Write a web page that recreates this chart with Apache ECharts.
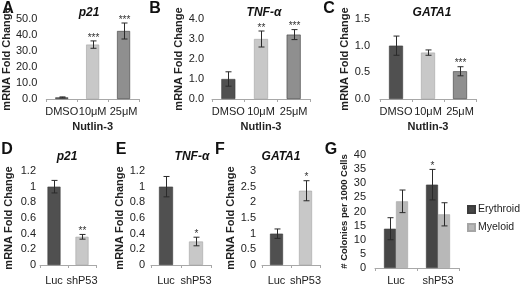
<!DOCTYPE html>
<html><head><meta charset="utf-8">
<script src="https://cdn.jsdelivr.net/npm/echarts@6/dist/echarts.min.js"></script>
<style>html,body{margin:0;padding:0;background:#fff}#c{width:520px;height:286px}</style>
</head><body><div id="c"></div>
<script>
// ---------- data ----------
const nutlinCategories = ['DMSO', '10μM', '25μM'];
const shCategories = ['Luc', 'shP53'];

const p21Nutlin = [1.0, 34.0, 42.5];
const p21NutlinErr = [0.3, 2.3, 5.0];
const p21NutlinSig = ['', '***', '***'];

const tnfNutlin = [1.0, 3.0, 3.22];
const tnfNutlinErr = [0.36, 0.4, 0.25];
const tnfNutlinSig = ['', '**', '***'];

const gata1Nutlin = [1.0, 0.87, 0.52];
const gata1NutlinErr = [0.18, 0.05, 0.085];
const gata1NutlinSig = ['', '', '***'];

const p21Sh = [1.0, 0.36];
const p21ShErr = [0.08, 0.03];
const p21ShSig = ['', '**'];

const tnfSh = [1.0, 0.30];
const tnfShErr = [0.13, 0.055];
const tnfShSig = ['', '*'];

const gata1Sh = [1.0, 2.37];
const gata1ShErr = [0.15, 0.32];
const gata1ShSig = ['', '*'];

const colonySeriesNames = ['Erythroid', 'Myeloid'];
const erythroidColonies = [13.9, 29.5];
const erythroidColoniesErr = [3.9, 5.4];
const erythroidColoniesSig = ['', '*'];
const myeloidColonies = [23.6, 19.0];
const myeloidColoniesErr = [4.0, 4.1];
const myeloidColoniesSig = ['', ''];

// y-axis ranges [min, max, interval]
const yRangeA = [0, 50, 10];
const yRangeB = [0, 4, 1];
const yRangeC = [0, 1.5, 0.5];
const yRangeD = [0, 1.2, 0.2];
const yRangeE = [0, 1.2, 0.2];
const yRangeF = [0, 3, 0.5];
const yRangeG = [0, 40, 5];

const yAxisTitle = 'mRNA Fold Change';
const colonyAxisTitle = '# Colonies per 1000 Cells';
const nutlinAxisTitle = 'Nutlin-3';
const panelTitles = ['p21', 'TNF-α', 'GATA1', 'p21', 'TNF-α', 'GATA1'];
const panelLetters = ['A', 'B', 'C', 'D', 'E', 'F', 'G'];

// ---------- styles ----------
const FONT = '"Liberation Sans", Arial, sans-serif';
const DARK = '#505050', LIGHT = '#c8c8c8', MID = '#8f8f8f';
const ERY = '#464646', MYE = '#b8b8b8';
const nutlinColors = [DARK, LIGHT, MID];
const shColors = [DARK, LIGHT];
const AXIS_COLOR = '#a8a8a8';

const grids = [
  {left: 43, top: 19, width: 96, height: 80},
  {left: 212, top: 19, width: 98, height: 80},
  {left: 380, top: 19, width: 96, height: 80},
  {left: 40, top: 171, width: 56, height: 94},
  {left: 151, top: 171, width: 60, height: 94},
  {left: 262, top: 171, width: 58, height: 94},
  {left: 375, top: 155, width: 84, height: 113}
];

function numFmt1(v) { return v.toFixed(1); }
function numFmtShort(v) { return String(+v.toFixed(2)); }

function xAxisFor(i, cats, name, labelMargin) {
  return {
    type: 'category', gridIndex: i, data: cats, boundaryGap: true,
    axisLine: {lineStyle: {color: AXIS_COLOR, width: 1}},
    axisTick: {show: true, length: 3, lineStyle: {color: AXIS_COLOR}},
    axisLabel: {interval: 0, margin: labelMargin, color: '#222', fontSize: 11, fontFamily: FONT},
    name: name || '', nameLocation: 'middle', nameGap: 22,
    nameTextStyle: {fontWeight: 'bold', fontSize: 11, color: '#222', fontFamily: FONT}
  };
}
function yAxisFor(i, range, fmt, name, nameGap, nameSize, labelMargin) {
  return {
    type: 'value', gridIndex: i, min: range[0], max: range[1], interval: range[2],
    axisLine: {show: false}, axisTick: {show: false}, splitLine: {show: false},
    axisLabel: {formatter: fmt, color: '#222', fontSize: 11, fontFamily: FONT, margin: labelMargin},
    name: name, nameLocation: 'middle', nameRotate: 90, nameGap: nameGap,
    nameTextStyle: {fontWeight: 'bold', fontSize: nameSize, color: '#222', fontFamily: FONT}
  };
}

function borderFor(c) { return (c === LIGHT || c === MYE) ? '#a5a5a5' : '#3c3c3c'; }
function barSeries(i, values, colors, barWidth, name) {
  return {
    type: 'bar', name: name, xAxisIndex: i, yAxisIndex: i, barWidth: barWidth,
    itemStyle: {color: colors[0], borderColor: borderFor(colors[0]), borderWidth: 0.6},
    data: values.map((v, k) => ({value: v, itemStyle: {color: colors[k % colors.length],
      borderColor: borderFor(colors[k % colors.length]), borderWidth: 0.6}})),
    silent: true, z: 2
  };
}
function errSeries(i, values, errs, sigs, offset, cap) {
  return {
    type: 'custom', xAxisIndex: i, yAxisIndex: i, silent: true, z: 5,
    data: values.map((v, k) => [k, v, errs[k]]),
    renderItem: function (params, api) {
      const k = api.value(0), v = api.value(1), e = api.value(2);
      const top = api.coord([k, v + e]);
      const bot = api.coord([k, v - e]);
      const x = Math.round(top[0] + offset) + 0.5;
      const st = {stroke: '#2a2a2a', lineWidth: 1};
      const ch = [
        {type: 'line', shape: {x1: x, y1: top[1], x2: x, y2: bot[1]}, style: st},
        {type: 'line', shape: {x1: x - cap, y1: top[1], x2: x + cap, y2: top[1]}, style: st},
        {type: 'line', shape: {x1: x - cap, y1: bot[1], x2: x + cap, y2: bot[1]}, style: st}
      ];
      const s = sigs[params.dataIndex];
      if (s) {
        ch.push({type: 'text', style: {text: s, x: x, y: top[1] + 2, align: 'center', verticalAlign: 'bottom',
          fontSize: 10, fontFamily: FONT, fill: '#333'}});
      }
      return {type: 'group', children: ch};
    }
  };
}

const xAxes = [
  xAxisFor(0, nutlinCategories, nutlinAxisTitle, 7),
  xAxisFor(1, nutlinCategories, nutlinAxisTitle, 7),
  xAxisFor(2, nutlinCategories, nutlinAxisTitle, 7),
  xAxisFor(3, shCategories, '', 10),
  xAxisFor(4, shCategories, '', 10),
  xAxisFor(5, shCategories, '', 10),
  xAxisFor(6, shCategories, '', 7)
];
const yAxes = [
  yAxisFor(0, yRangeA, numFmt1, yAxisTitle, 31, 11, 9),
  yAxisFor(1, yRangeB, numFmt1, yAxisTitle, 28, 11, 8),
  yAxisFor(2, yRangeC, numFmt1, yAxisTitle, 28, 11, 10),
  yAxisFor(3, yRangeD, numFmtShort, yAxisTitle, 26, 11, 4),
  yAxisFor(4, yRangeE, numFmtShort, yAxisTitle, 25, 11, 6),
  yAxisFor(5, yRangeF, numFmtShort, yAxisTitle, 23, 11, 6),
  yAxisFor(6, yRangeG, null, colonyAxisTitle, 25, 9.5, 9)
];

const series = [
  barSeries(0, p21Nutlin, nutlinColors, 13), errSeries(0, p21Nutlin, p21NutlinErr, p21NutlinSig, 0, 3),
  barSeries(1, tnfNutlin, nutlinColors, 14), errSeries(1, tnfNutlin, tnfNutlinErr, tnfNutlinSig, 0, 3),
  barSeries(2, gata1Nutlin, nutlinColors, 14), errSeries(2, gata1Nutlin, gata1NutlinErr, gata1NutlinSig, 0, 3),
  barSeries(3, p21Sh, shColors, 13), errSeries(3, p21Sh, p21ShErr, p21ShSig, 0, 3),
  barSeries(4, tnfSh, shColors, 14), errSeries(4, tnfSh, tnfShErr, tnfShSig, 0, 3),
  barSeries(5, gata1Sh, shColors, 13), errSeries(5, gata1Sh, gata1ShErr, gata1ShSig, 0, 3),
  Object.assign(barSeries(6, erythroidColonies, [ERY], 12, colonySeriesNames[0]), {barGap: '0%'}),
  Object.assign(barSeries(6, myeloidColonies, [MYE], 12, colonySeriesNames[1]), {barGap: '0%'}),
  errSeries(6, erythroidColonies, erythroidColoniesErr, erythroidColoniesSig, -6, 3),
  errSeries(6, myeloidColonies, myeloidColoniesErr, myeloidColoniesSig, 6, 3)
];

// panel letters and titles
const letterPos = [[8, 9], [155, 9], [329, 9], [7, 150], [121, 150], [220, 150], [331, 150]];
const titlePos = [[89, 13], [264, 13], [432, 13], [67, 157], [192, 157], [281, 157]];
const graphics = [];
panelLetters.forEach((t, k) => graphics.push({type: 'text', x: letterPos[k][0], y: letterPos[k][1],
  style: {text: t, align: 'center', verticalAlign: 'middle', fontSize: 16, fontWeight: 'bold', fontFamily: FONT, fill: '#111'}}));
panelTitles.forEach((t, k) => graphics.push({type: 'text', x: titlePos[k][0], y: titlePos[k][1],
  style: {text: t, align: 'center', verticalAlign: 'middle', fontSize: 12, fontWeight: 'bold', fontStyle: 'italic', fontFamily: FONT, fill: '#111'}}));

const chart = echarts.init(document.getElementById('c'), null, {renderer: 'canvas'});
chart.setOption({
  animation: false,
  backgroundColor: '#fff',
  grid: grids,
  xAxis: xAxes,
  yAxis: yAxes,
  legend: {
    data: colonySeriesNames, orient: 'vertical', left: 467, top: 204, padding: 0,
    itemWidth: 7, itemHeight: 7, itemGap: 7,
    icon: 'rect', textStyle: {fontSize: 10.5, color: '#222', fontFamily: FONT, padding: [0, 0, 0, -2]}
  },
  graphic: graphics,
  series: series
});
</script></body></html>
